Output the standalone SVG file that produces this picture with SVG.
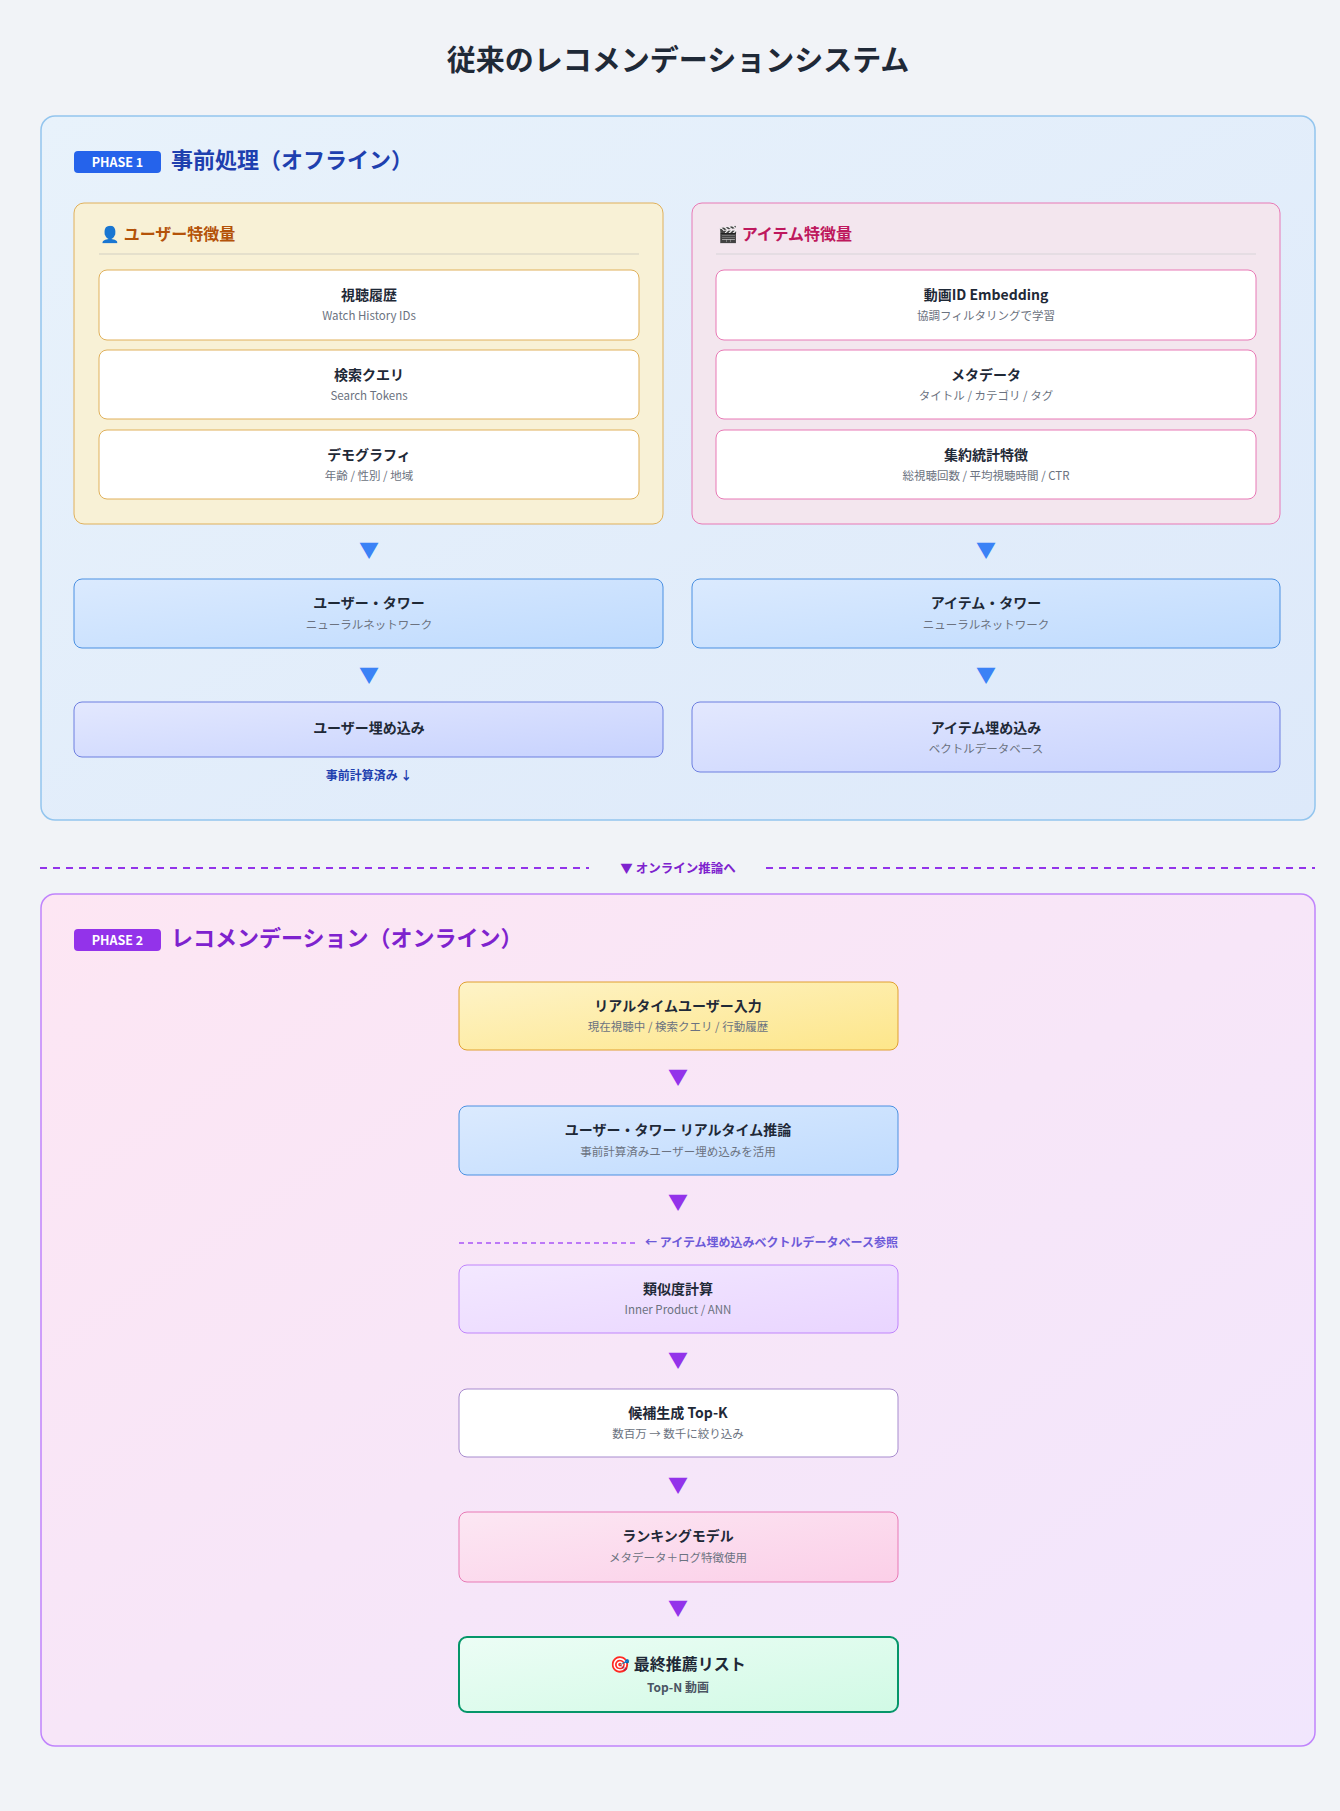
<svg xmlns="http://www.w3.org/2000/svg" width="1340" height="1811" viewBox="0 0 1340 1811">
<defs>
<linearGradient id="gP1" x1="0" y1="0" x2="1" y2="1"><stop offset="0" stop-color="#e8f2fb"/><stop offset="1" stop-color="#dde9fa"/></linearGradient>
<linearGradient id="gP2" x1="0" y1="0" x2="1" y2="1"><stop offset="0" stop-color="#fde6f3"/><stop offset="1" stop-color="#f1e6fd"/></linearGradient>
<linearGradient id="gTower" x1="0" y1="0" x2="1" y2="1"><stop offset="0" stop-color="#dbeafe"/><stop offset="1" stop-color="#bfdbfe"/></linearGradient>
<linearGradient id="gEmb" x1="0" y1="0" x2="1" y2="1"><stop offset="0" stop-color="#e3e8fe"/><stop offset="1" stop-color="#c7d2fe"/></linearGradient>
<linearGradient id="gYel" x1="0" y1="0" x2="1" y2="1"><stop offset="0" stop-color="#fef3c7"/><stop offset="1" stop-color="#fde68a"/></linearGradient>
<linearGradient id="gSim" x1="0" y1="0" x2="1" y2="1"><stop offset="0" stop-color="#f3e8ff"/><stop offset="1" stop-color="#e9d5ff"/></linearGradient>
<linearGradient id="gRank" x1="0" y1="0" x2="1" y2="1"><stop offset="0" stop-color="#fce7f3"/><stop offset="1" stop-color="#fbcfe8"/></linearGradient>
<linearGradient id="gFin" x1="0" y1="0" x2="1" y2="1"><stop offset="0" stop-color="#ecfdf5"/><stop offset="1" stop-color="#d1fae5"/></linearGradient>
</defs>
<style>
text{font-family:"Noto Sans CJK JP","Noto Sans",sans-serif;text-anchor:middle}
.t{font-size:14px;font-weight:700;fill:#1f2937}
.s{font-size:11.5px;fill:#6b7280}
.arB{font-size:20px;fill:#3b82f6}
.arP{font-size:20px;fill:#9333ea}
</style>
<rect width="1340" height="1811" fill="#f1f3f7"/>
<text x="678" y="71" style="font-size:29px;font-weight:700;fill:#1f2937">従来のレコメンデーションシステム</text>

<g id="phase1">
<rect x="41" y="116" width="1274" height="704" rx="14" fill="url(#gP1)" stroke="#93c5ee" stroke-width="1.5"/>
<rect x="74" y="151" width="87" height="22" rx="4" fill="#2563eb"/>
<text x="117.5" y="167" style="font-size:12.5px;font-weight:700;fill:#fff">PHASE 1</text>
<text x="171" y="168" style="font-size:22px;font-weight:700;fill:#1e40af;text-anchor:start">事前処理（オフライン）</text>
</g>

<g id="user-features">
<rect x="74" y="203" width="589" height="321" rx="10" fill="#f8f1d6" stroke="#e0b05a"/>
<text x="100" y="240" style="font-size:16px;font-weight:700;fill:#b45309;text-anchor:start">👤 ユーザー特徴量</text>
<line x1="99" y1="254" x2="639" y2="254" stroke="#e5e0cc" stroke-width="2"/>
<rect x="99" y="270" width="540" height="70" rx="8" fill="#fff" stroke="#e0b05a"/>
<text class="t" x="369" y="300">視聴履歴</text><text class="s" x="369" y="320">Watch History IDs</text>
<rect x="99" y="350" width="540" height="69" rx="8" fill="#fff" stroke="#e0b05a"/>
<text class="t" x="369" y="380">検索クエリ</text><text class="s" x="369" y="400">Search Tokens</text>
<rect x="99" y="430" width="540" height="69" rx="8" fill="#fff" stroke="#e0b05a"/>
<text class="t" x="369" y="460">デモグラフィ</text><text class="s" x="369" y="480">年齢 / 性別 / 地域</text>
</g>

<g id="item-features">
<rect x="692" y="203" width="588" height="321" rx="10" fill="#f3e6ee" stroke="#e879b5"/>
<text x="718" y="240" style="font-size:16px;font-weight:700;fill:#be185d;text-anchor:start">🎬 アイテム特徴量</text>
<line x1="716" y1="254" x2="1256" y2="254" stroke="#e5dde3" stroke-width="2"/>
<rect x="716" y="270" width="540" height="70" rx="8" fill="#fff" stroke="#e879b5"/>
<text class="t" x="986" y="300">動画ID Embedding</text><text class="s" x="986" y="320">協調フィルタリングで学習</text>
<rect x="716" y="350" width="540" height="69" rx="8" fill="#fff" stroke="#e879b5"/>
<text class="t" x="986" y="380">メタデータ</text><text class="s" x="986" y="400">タイトル / カテゴリ / タグ</text>
<rect x="716" y="430" width="540" height="69" rx="8" fill="#fff" stroke="#e879b5"/>
<text class="t" x="986" y="460">集約統計特徴</text><text class="s" x="986" y="480">総視聴回数 / 平均視聴時間 / CTR</text>
</g>

<g id="user-tower">
<rect x="74" y="579" width="589" height="69" rx="8" fill="url(#gTower)" stroke="#4a90e2"/>
<text class="t" x="369" y="608">ユーザー・タワー</text><text class="s" x="369" y="629">ニューラルネットワーク</text>
</g>
<g id="item-tower">
<rect x="692" y="579" width="588" height="69" rx="8" fill="url(#gTower)" stroke="#4a90e2"/>
<text class="t" x="986" y="608">アイテム・タワー</text><text class="s" x="986" y="629">ニューラルネットワーク</text>
</g>
<g id="user-emb">
<rect x="74" y="702" width="589" height="55" rx="8" fill="url(#gEmb)" stroke="#6d7fe0"/>
<text class="t" x="369" y="733">ユーザー埋め込み</text>
<text x="369" y="780" style="font-size:12px;font-weight:700;fill:#1e40af">事前計算済み ↓</text>
</g>
<g id="item-emb">
<rect x="692" y="702" width="588" height="70" rx="8" fill="url(#gEmb)" stroke="#6d7fe0"/>
<text class="t" x="986" y="733">アイテム埋め込み</text><text class="s" x="986" y="753">ベクトルデータベース</text>
</g>

<g id="divider">
<line x1="40" y1="868" x2="589" y2="868" stroke="#9333ea" stroke-width="2" stroke-dasharray="7,6"/>
<line x1="766" y1="868" x2="1315" y2="868" stroke="#9333ea" stroke-width="2" stroke-dasharray="7,6"/>
<text x="678" y="873" style="font-size:12.5px;font-weight:700;fill:#7e22ce">▼ オンライン推論へ</text>
</g>

<g id="phase2">
<rect x="41" y="894" width="1274" height="852" rx="14" fill="url(#gP2)" stroke="#c084fc" stroke-width="1.5"/>
<rect x="74" y="929" width="87" height="22" rx="4" fill="#9333ea"/>
<text x="117.5" y="945" style="font-size:12.5px;font-weight:700;fill:#fff">PHASE 2</text>
<text x="171" y="946" style="font-size:22px;font-weight:700;fill:#7e22ce;text-anchor:start">レコメンデーション（オンライン）</text>
</g>

<g id="rt-input">
<rect x="459" y="982" width="439" height="68" rx="8" fill="url(#gYel)" stroke="#e0a030"/>
<text class="t" x="678" y="1011">リアルタイムユーザー入力</text><text class="s" x="678" y="1031">現在視聴中 / 検索クエリ / 行動履歴</text>
</g>
<g id="rt-tower">
<rect x="459" y="1106" width="439" height="69" rx="8" fill="url(#gTower)" stroke="#4a90e2"/>
<text class="t" x="678" y="1135">ユーザー・タワー リアルタイム推論</text><text class="s" x="678" y="1156">事前計算済みユーザー埋め込みを活用</text>
</g>
<g id="ref-note">
<line x1="459" y1="1243" x2="635" y2="1243" stroke="#a855f7" stroke-width="1.3" stroke-dasharray="5,4"/>
<text x="898" y="1247" style="font-size:12px;font-weight:700;fill:#6d5ad8;text-anchor:end">← アイテム埋め込みベクトルデータベース参照</text>
</g>
<g id="similarity">
<rect x="459" y="1265" width="439" height="68" rx="8" fill="url(#gSim)" stroke="#c084fc"/>
<text class="t" x="678" y="1294">類似度計算</text><text class="s" x="678" y="1314">Inner Product / ANN</text>
</g>
<g id="candidates">
<rect x="459" y="1389" width="439" height="68" rx="8" fill="#fff" stroke="#a78bce"/>
<text class="t" x="678" y="1418">候補生成 Top-K</text><text class="s" x="678" y="1438">数百万 → 数千に絞り込み</text>
</g>
<g id="ranking">
<rect x="459" y="1512" width="439" height="70" rx="8" fill="url(#gRank)" stroke="#e879b5"/>
<text class="t" x="678" y="1541">ランキングモデル</text><text class="s" x="678" y="1562">メタデータ＋ログ特徴使用</text>
</g>
<g id="final">
<rect x="459" y="1637" width="439" height="75" rx="8" fill="url(#gFin)" stroke="#059669" stroke-width="2"/>
<text x="678" y="1670" style="font-size:16px;font-weight:700;fill:#1f2937">🎯 最終推薦リスト</text>
<text x="678" y="1692" style="font-size:12px;font-weight:700;fill:#4b5563">Top-N 動画</text>
</g>

<g id="connectors">
<text class="arB" x="369" y="558">▼</text><text class="arB" x="986" y="558">▼</text>
<text class="arB" x="369" y="683">▼</text><text class="arB" x="986" y="683">▼</text>
<text class="arP" x="678" y="1085">▼</text>
<text class="arP" x="678" y="1210">▼</text>
<text class="arP" x="678" y="1368">▼</text>
<text class="arP" x="678" y="1493">▼</text>
<text class="arP" x="678" y="1616">▼</text>
</g>
</svg>
